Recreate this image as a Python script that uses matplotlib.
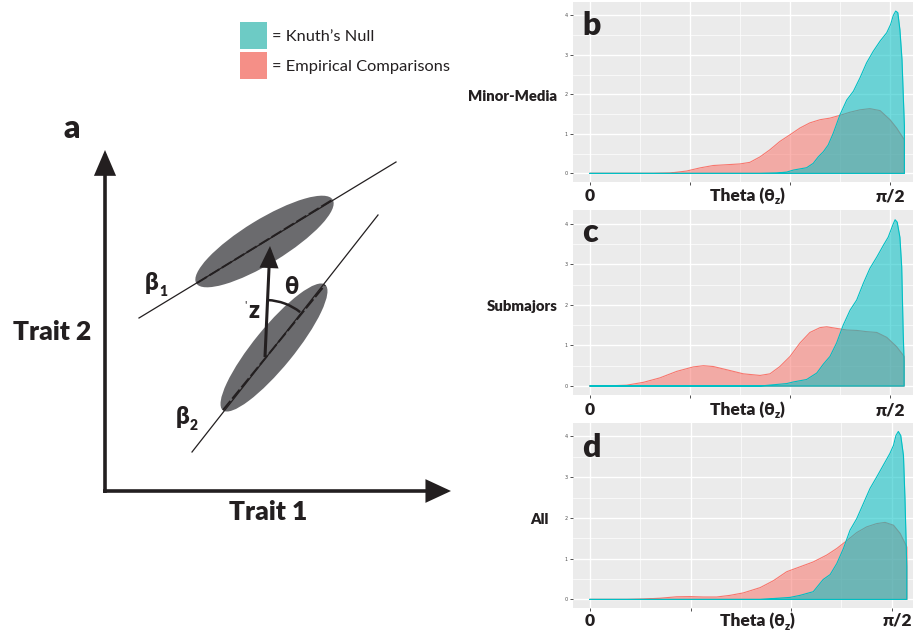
import numpy as np
import matplotlib
matplotlib.use('Agg')
import matplotlib.pyplot as plt
from matplotlib.patches import Ellipse, Arc, FancyArrowPatch, Rectangle

W, H = 913, 632
FAM = ['Lato', 'DejaVu Sans']
INK = '#231f20'
HEAVY = 'heavy'
HALF_PI = np.pi / 2

# density curves, x given as a fraction of pi/2, y = density
# b: Minor-Media
b_null_x = [0, .567, .622, .656, .678, .722, .744, .761, .778, .794, .811, .833, .856, .878, .9,
            .922, .944, .967, .989, 1.002, 1.011, 1.019, 1.026, 1.033, 1.04, 1.044, 1.048]
b_null_y = [0, 0, .01, .034, .085, .144, .254, .42, .55, .72, 1.02, 1.48, 1.86, 2.08, 2.42,
            2.80, 3.09, 3.35, 3.56, 3.77, 4.0, 4.11, 4.07, 3.64, 2.88, 2.03, 1.2]
b_emp_x = [0, .211, .267, .322, .367, .411, .456, .5, .533, .567, .6, .633, .667, .7, .733,
           .767, .8, .833, .867, .9, .933, .967, 1.0, 1.022, 1.048]
b_emp_y = [0, 0, .01, .06, .14, .2, .22, .24, .28, .42, .6, .81, .98, 1.15, 1.28,
           1.36, 1.40, 1.47, 1.55, 1.61, 1.64, 1.59, 1.36, 1.15, .85]
# c: Submajors
c_null_x = [0, .567, .656, .678, .722, .756, .778, .8, .822, .844, .867, .889, .911, .933,
            .956, .978, .994, 1.011, 1.017, 1.024, 1.033, 1.039, 1.044, 1.047]
c_null_y = [0, 0, .06, .1, .16, .32, .54, .73, 1.06, 1.5, 1.87, 2.12, 2.53, 2.9,
            3.18, 3.47, 3.67, 4.0, 4.1, 4.04, 3.67, 2.94, 1.3, .6]
c_emp_x = [0, .033, .067, .122, .178, .233, .289, .344, .378, .411, .456, .511, .567, .6, .633,
           .667, .7, .733, .767, .789, .822, .856, .889, .922, .956, .989, 1.022, 1.047]
c_emp_y = [0, 0, .005, .02, .09, .2, .36, .47, .5, .48, .4, .3, .26, .3, .48,
           .73, 1.06, 1.32, 1.44, 1.46, 1.42, 1.38, 1.37, 1.34, 1.32, 1.2, .97, .73]
# d: All
d_null_x = [0, .564, .663, .696, .74, .773, .796, .818, .84, .862, .884, .906, .928, .95,
            .972, .994, 1.006, 1.014, 1.022, 1.03, 1.039, 1.044, 1.05]
d_null_y = [0, 0, .05, .1, .19, .49, .61, .88, 1.25, 1.7, 1.98, 2.35, 2.72, 3.0,
            3.29, 3.58, 3.78, 4.02, 4.12, 4.02, 3.53, 2.47, .8]
d_emp_x = [0, .122, .177, .232, .287, .331, .376, .42, .464, .508, .564, .608, .652, .696,
           .74, .785, .818, .851, .884, .917, .95, .978, 1.006, 1.028, 1.05]
d_emp_y = [0, 0, .01, .03, .065, .07, .06, .06, .1, .16, .29, .46, .68, .8,
           .92, 1.09, 1.25, 1.44, 1.64, 1.78, 1.86, 1.89, 1.82, 1.62, 1.29]

row_labels = ['Minor-Media', 'Submajors', 'All']
panel_letters = ['b', 'c', 'd']
legend_labels = ['= Knuth\u2019s Null', '= Empirical Comparisons']
legend_colors = ['#6dcbc5', '#f58f87']

EMP = '#F8766D'
NULL = '#00BFC4'

fig = plt.figure(figsize=(W / 100, H / 100), dpi=100)


def px_axes(l, t, r, b, **kw):
    return fig.add_axes([l / W, 1 - b / H, (r - l) / W, (b - t) / H], **kw)


# panel geometry in pixels: top, bottom, px per pi/2
geo = [(2, 181.7, 300.0), (210, 394.5, 300.0), (422.5, 608, 301.7)]
curves = [(b_null_x, b_null_y, b_emp_x, b_emp_y),
          (c_null_x, c_null_y, c_emp_x, c_emp_y),
          (d_null_x, d_null_y, d_emp_x, d_emp_y)]

for (top, bot, ppx), (nx, ny, ex, ey) in zip(geo, curves):
    ax = px_axes(573, top, 913, bot)
    ax.set_facecolor('#ebebeb')
    for s in ax.spines.values():
        s.set_visible(False)
    for xs, ys, col in [(ex, ey, EMP), (nx, ny, NULL)]:
        x = np.array(xs) * HALF_PI
        y = np.array(ys)
        ax.fill_between(x, 0, y, color=col, alpha=0.55, lw=0, zorder=2)
        ax.plot(np.r_[x, x[-1], x[0]], np.r_[y, 0, 0], color=col, lw=0.8, zorder=2)
    ax.set_xlim(-17 / ppx * HALF_PI, (913 - 590) / ppx * HALF_PI)
    ax.set_ylim(-0.21, 4.34)
    ax.set_xticks([0, np.pi / 6, np.pi / 3, np.pi / 2])
    ax.set_xticks([np.pi / 12, np.pi / 4, 5 * np.pi / 12], minor=True)
    ax.set_yticks([0, 1, 2, 3, 4])
    ax.set_yticks([0.5, 1.5, 2.5, 3.5], minor=True)
    ax.set_xticklabels([])
    ax.set_yticklabels(['0', '1', '2', '3', '4'], fontsize=3.5, color='#4d4d4d')
    ax.tick_params(which='major', length=2.2, width=0.6, color='#333333', pad=1.5)
    ax.tick_params(which='minor', length=0)
    ax.grid(which='major', color='white', lw=1.0)
    ax.grid(which='minor', color='white', lw=0.5)
    ax.set_axisbelow(True)

ov = fig.add_axes([0, 0, 1, 1], zorder=5)
ov.set_xlim(0, W)
ov.set_ylim(H, 0)
ov.axis('off')

rend = fig.canvas.get_renderer()


def pieces(x, y, parts, ha='center', weight=HEAVY):
    # parts: (text, size, dy) laid out left to right on a shared baseline
    arts = []
    for s, size, dy in parts:
        t = ov.text(0, 0, s, fontsize=size, fontweight=weight, family=FAM,
                    color=INK, va='baseline', ha='left')
        arts.append((t, dy, t.get_window_extent(rend).width))
    total = sum(a[2] for a in arts)
    x0 = x - total / 2 if ha == 'center' else x
    for t, dy, w in arts:
        t.set_position((x0, y + dy))
        x0 += w


# --- panel a: schematic ---
ov.text(72, 138, 'a', fontsize=23, fontweight=HEAVY, family=FAM, color=INK,
        ha='center', va='baseline')
ov.add_patch(Ellipse((264.5, 241.5), 160, 44, angle=-31.5, color='#6b6b6e', lw=0, zorder=1))
ov.add_patch(Ellipse((274, 347.5), 162, 40, angle=-50.8, color='#6b6b6e', lw=0, zorder=1))
ov.plot([139, 396], [318, 162], color=INK, lw=0.9, zorder=2)
ov.plot([192, 378], [452, 215], color=INK, lw=0.9, zorder=2)
ov.plot([197, 332], [283, 200], color=INK, lw=1.4, dashes=(6, 1.5), zorder=2)
ov.plot([223, 325], [410, 285], color=INK, lw=1.4, dashes=(6, 1.5), zorder=2)

for p0, p1, lw, hl, hw in [((105, 493), (105, 150), 2.6, 14, 6),
                           ((103, 491), (451, 491), 2.6, 14, 6.5),
                           ((265, 357), (270, 246), 2.2, 12, 5.2)]:
    ov.add_patch(FancyArrowPatch(p0, p1, arrowstyle=f'-|>,head_length={hl},head_width={hw}',
                                 mutation_scale=1, lw=lw, color=INK, shrinkA=0, shrinkB=0,
                                 joinstyle='miter', capstyle='butt', zorder=3))
ov.add_patch(Arc((265, 357), 114, 114, theta1=-87.4, theta2=-51.9, color=INK, lw=1.8, zorder=3))

pieces(52, 340, [('Trait 2', 19, 0)])
pieces(268, 520, [('Trait 1', 19, 0)])
pieces(156, 290, [('\u03b2', 17, 0), ('1', 10, 6)])
pieces(187, 424, [('\u03b2', 17, 0), ('2', 10, 6)])
pieces(291, 294, [('\u03b8', 17, 0)])
pieces(254, 318, [('z', 17, 0)])
ov.text(245, 308, "'", fontsize=8, family=FAM, color=INK, ha='center', va='baseline')

# legend
for i, (lab, col) in enumerate(zip(legend_labels, legend_colors)):
    top = 22 + i * 30
    ov.add_patch(Rectangle((240, top), 27, 27, color=col, lw=0))
    pieces(272, top + 19, [(lab, 11.8, 0)], ha='left', weight='normal')

# row labels, panel letters and x-axis text
row_base = [101, 311, 524]
row_right = [557, 558, 549]
letter_base = [35, 242, 457]
axis_base = [201, 415, 626]
theta_cx = [747, 747, 757]
pi_cx = [890, 890, 897]
for i in range(3):
    ov.text(row_right[i], row_base[i], row_labels[i], fontsize=10.7, fontweight=HEAVY,
            family=FAM, color=INK, ha='right', va='baseline')
    ov.text(582, letter_base[i], panel_letters[i], fontsize=23, fontweight=HEAVY,
            family=FAM, color=INK, ha='left', va='baseline')
    pieces(590, axis_base[i], [('0', 12.5, 0)])
    pieces(theta_cx[i], axis_base[i], [('Theta (\u03b8', 12.5, 0), ('z', 8, 3.5), (')', 12.5, 0)])
    pieces(pi_cx[i], axis_base[i], [('\u03c0/2', 12.5, 0)])

fig.savefig('out.png', dpi=100)
